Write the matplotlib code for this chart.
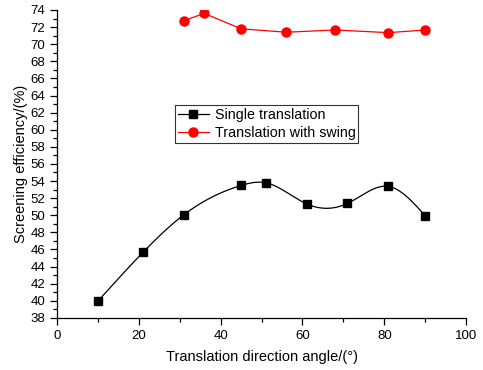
import numpy as np
import matplotlib
matplotlib.use("Agg")
import matplotlib.pyplot as plt
from matplotlib.ticker import MultipleLocator

# data
single_angle = [10, 21, 31, 45, 51, 61, 71, 81, 90]
single_eff = [39.95, 45.65, 50.05, 53.48, 53.8, 51.33, 51.38, 53.37, 49.93]
swing_angle = [31, 36, 45, 56, 68, 81, 90]
swing_eff = [72.75, 73.6, 71.8, 71.4, 71.66, 71.35, 71.66]


def natural_spline(x, y, n=300):
    """Smooth line through the points (natural cubic spline), for drawing only."""
    x = np.asarray(x, float)
    y = np.asarray(y, float)
    k = len(x)
    h = np.diff(x)
    A = np.zeros((k, k))
    b = np.zeros(k)
    A[0, 0] = A[-1, -1] = 1
    for i in range(1, k - 1):
        A[i, i - 1] = h[i - 1]
        A[i, i] = 2 * (h[i - 1] + h[i])
        A[i, i + 1] = h[i]
        b[i] = 6 * ((y[i + 1] - y[i]) / h[i] - (y[i] - y[i - 1]) / h[i - 1])
    m = np.linalg.solve(A, b)
    xs = np.linspace(x[0], x[-1], n)
    idx = np.clip(np.searchsorted(x, xs) - 1, 0, k - 2)
    x0, x1 = x[idx], x[idx + 1]
    hh = x1 - x0
    t0 = x1 - xs
    t1 = xs - x0
    ys = (m[idx] * t0**3 + m[idx + 1] * t1**3) / (6 * hh) \
        + (y[idx] / hh - m[idx] * hh / 6) * t0 \
        + (y[idx + 1] / hh - m[idx + 1] * hh / 6) * t1
    return xs, ys


plt.rcParams["font.family"] = ["Liberation Sans", "DejaVu Sans"]

fig = plt.figure(figsize=(4.83, 3.70), dpi=100)
ax = fig.add_axes([0.118, 0.141, 0.847, 0.832])

xs, ys = natural_spline(single_angle, single_eff)
ax.plot(xs, ys, color="black", lw=0.9)
ax.plot(single_angle, single_eff, "s", color="black", ms=5.5)
# legend handles
ax.plot([], [], "s-", color="black", ms=5.5, lw=0.9, label="Single translation")
ax.plot(swing_angle, swing_eff, "o-", color="red", ms=6.5, lw=0.9,
        label="Translation with swing")

ax.set_xlim(0, 100)
ax.set_ylim(38, 74)
ax.xaxis.set_major_locator(MultipleLocator(20))
ax.xaxis.set_minor_locator(MultipleLocator(10))
ax.yaxis.set_major_locator(MultipleLocator(2))
ax.yaxis.set_minor_locator(MultipleLocator(1))
ax.tick_params(which="both", direction="out", labelsize=9.5, width=0.9)
ax.tick_params(which="major", length=5)
ax.tick_params(which="minor", length=3)

ax.spines["top"].set_visible(False)
ax.spines["right"].set_visible(False)
ax.spines["left"].set_linewidth(0.9)
ax.spines["bottom"].set_linewidth(0.9)

ax.set_xlabel("Translation direction angle/(°)", fontsize=10.5, labelpad=6)
ax.set_ylabel("Screening efficiency/(%)", fontsize=10.5, labelpad=2)

leg = ax.legend(loc="upper left", bbox_to_anchor=(0.289, 0.691), fontsize=10.3,
                frameon=True, fancybox=False, borderaxespad=0, handlelength=2.15,
                borderpad=0.2, labelspacing=0.3, handletextpad=0.4)
leg.get_frame().set_edgecolor("black")
leg.get_frame().set_linewidth(0.8)

fig.savefig("out.png", dpi=100)
